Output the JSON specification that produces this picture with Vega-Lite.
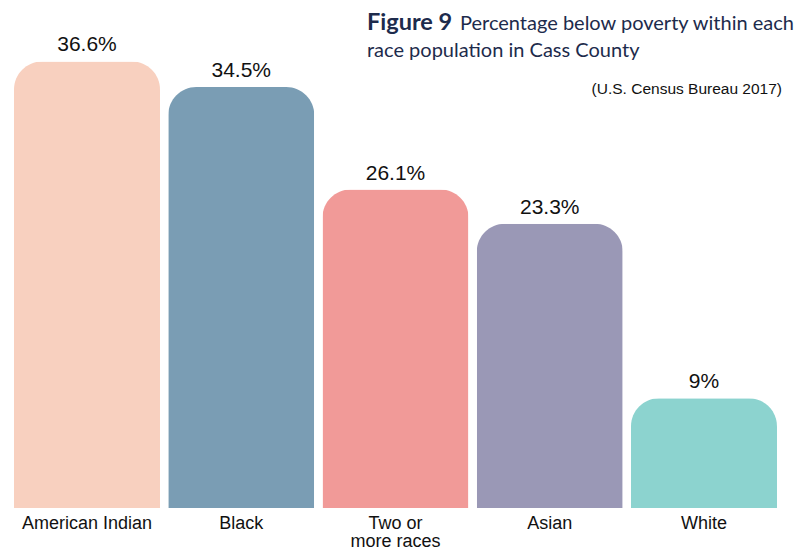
{
  "$schema": "https://vega.github.io/schema/vega-lite/v6.json",
  "width": 763,
  "height": 508,
  "autosize": {"type": "none"},
  "padding": {"left": 14, "top": 0, "right": 35, "bottom": 43},
  "background": "white",
  "config": {"view": {"stroke": null}},
  "datasets": {
    "bars": [
      {"race": "American Indian", "pct": 36.6, "label": "36.6%"},
      {"race": "Black", "pct": 34.5, "label": "34.5%"},
      {"race": "Two or more races", "pct": 26.1, "label": "26.1%"},
      {"race": "Asian", "pct": 23.3, "label": "23.3%"},
      {"race": "White", "pct": 9, "label": "9%"}
    ],
    "fig": [{"t": "Figure 9", "race": "Two or more races", "pct": 39.18}],
    "title1": [{"t": "Percentage below poverty within each", "race": "Two or more races", "pct": 39.18}],
    "title2": [{"t": "race population in Cass County", "race": "Two or more races", "pct": 36.97}],
    "source": [{"t": "(U.S. Census Bureau 2017)", "race": "White", "pct": 33.93}]
  },
  "data": {"name": "bars"},
  "encoding": {
    "x": {
      "field": "race", "type": "nominal", "sort": null,
      "scale": {"paddingInner": 0.0535, "paddingOuter": 0, "domain": ["American Indian", "Black", "Two or more races", "Asian", "White"]},
      "axis": {
        "title": null, "domain": false, "ticks": false, "tickSize": 0,
        "labelPadding": 6, "labelAngle": 0, "labelFont": "Liberation Sans",
        "labelFontSize": 18, "labelColor": "#111111", "labelLineHeight": 18.5,
        "labelOverlap": false, "labelLimit": 0,
        "labelExpr": "datum.label == 'Two or more races' ? ['Two or', 'more races'] : datum.label"
      }
    },
    "y": {
      "field": "pct", "type": "quantitative",
      "scale": {"domain": [0, 41.64], "nice": false},
      "axis": null
    }
  },
  "layer": [
    {
      "mark": {"type": "bar", "cornerRadiusTopLeft": 28, "cornerRadiusTopRight": 28},
      "encoding": {
        "color": {
          "field": "race", "type": "nominal", "legend": null,
          "scale": {
            "domain": ["American Indian", "Black", "Two or more races", "Asian", "White"],
            "range": ["#F8D0BF", "#7A9DB4", "#F19A98", "#9A98B6", "#8CD3CF"]
          }
        }
      }
    },
    {
      "mark": {"type": "text", "dy": -10, "baseline": "alphabetic", "font": "Liberation Sans", "fontSize": 21, "color": "#111111"},
      "encoding": {"text": {"field": "label"}}
    },
    {
      "data": {"name": "fig"},
      "mark": {"type": "text", "align": "left", "baseline": "alphabetic", "dx": -28.5, "font": "Lato", "fontWeight": "bold", "fontSize": 23.5, "color": "#1D2B4C"},
      "encoding": {"text": {"field": "t"}}
    },
    {
      "data": {"name": "title1"},
      "mark": {"type": "text", "align": "left", "baseline": "alphabetic", "dx": 64.5, "font": "Lato", "fontSize": 20, "color": "#1D2B4C"},
      "encoding": {"text": {"field": "t"}}
    },
    {
      "data": {"name": "title2"},
      "mark": {"type": "text", "align": "left", "baseline": "alphabetic", "dx": -28.5, "font": "Lato", "fontSize": 20, "color": "#1D2B4C"},
      "encoding": {"text": {"field": "t"}}
    },
    {
      "data": {"name": "source"},
      "mark": {"type": "text", "align": "right", "baseline": "alphabetic", "dx": 78, "font": "Liberation Sans", "fontSize": 15.5, "color": "#111111"},
      "encoding": {"text": {"field": "t"}}
    }
  ]
}
